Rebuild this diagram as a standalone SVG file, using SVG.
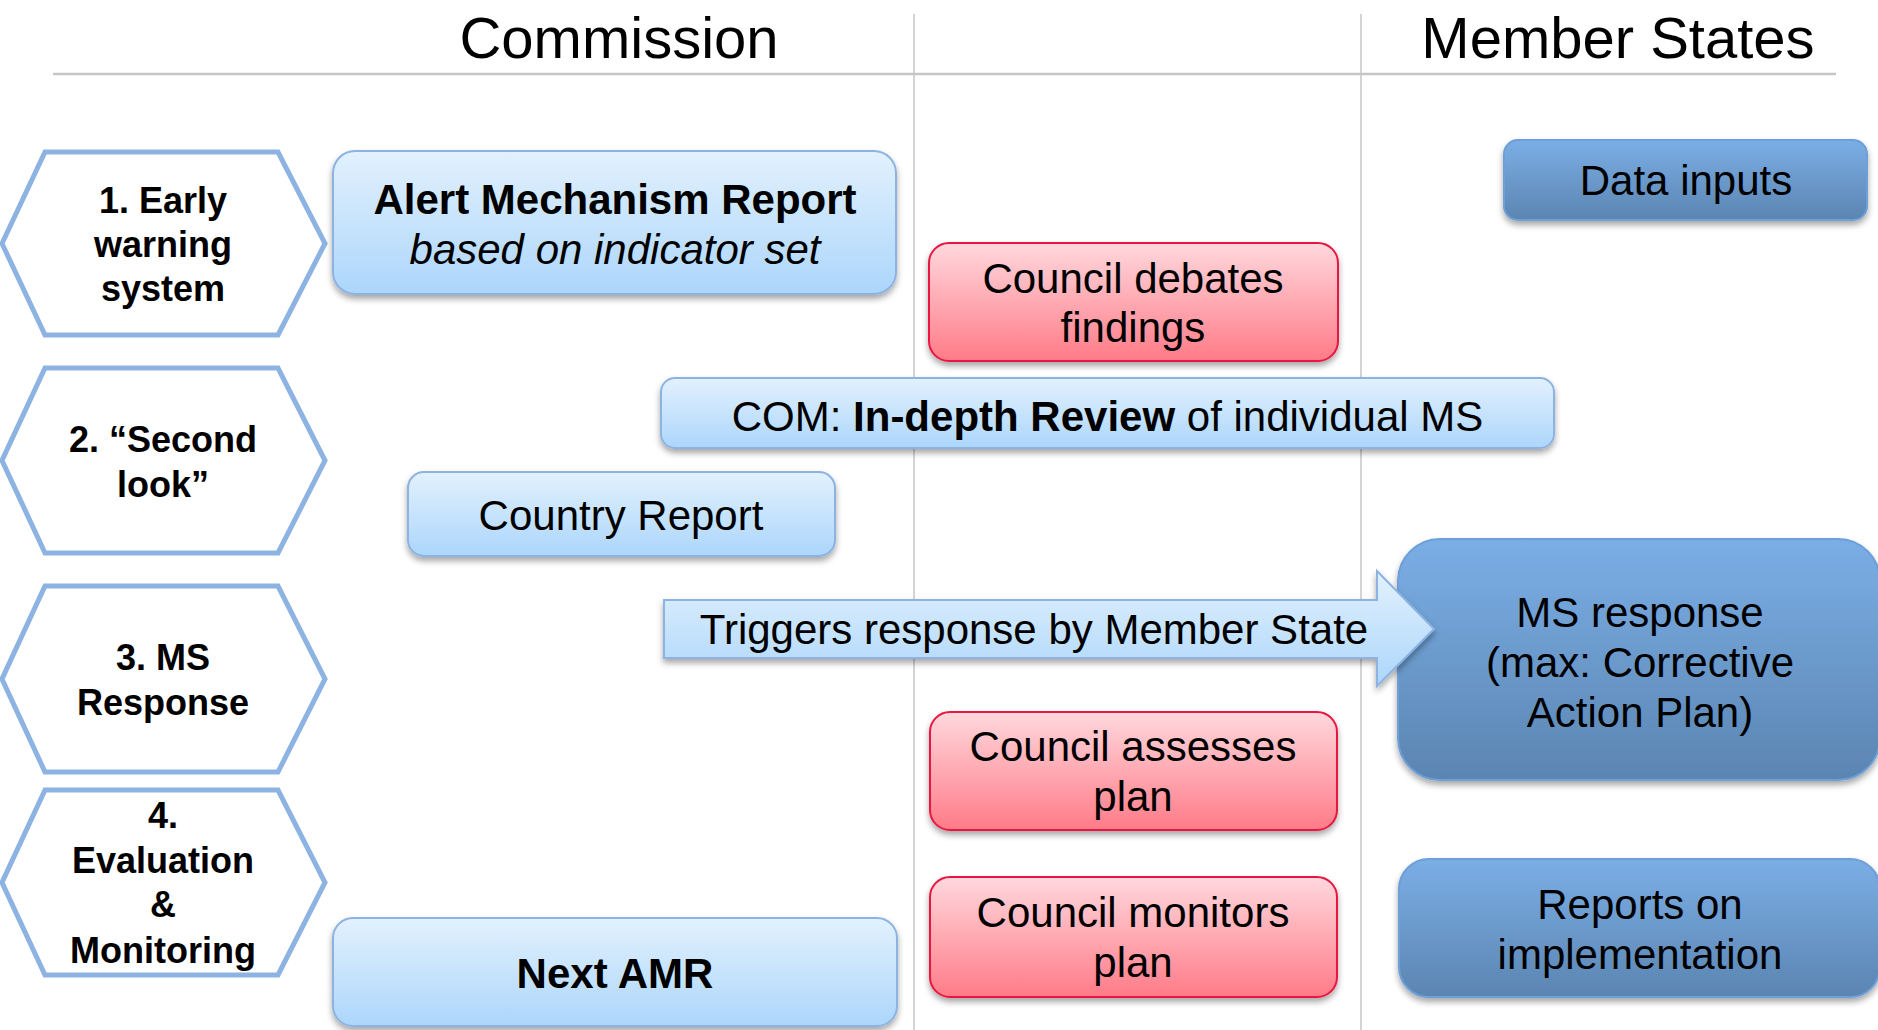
<svg xmlns="http://www.w3.org/2000/svg" width="1878" height="1030" viewBox="0 0 1878 1030">
<defs>
<linearGradient id="gLight" x1="0" y1="0" x2="0" y2="1"><stop offset="0" stop-color="#e2f1fd"/><stop offset="1" stop-color="#acd6fb"/></linearGradient>
<linearGradient id="gRed" x1="0" y1="0" x2="0" y2="1"><stop offset="0" stop-color="#ffd8dd"/><stop offset="1" stop-color="#ff7b88"/></linearGradient>
<linearGradient id="gDark" x1="0" y1="0" x2="0" y2="1"><stop offset="0" stop-color="#7baee6"/><stop offset="1" stop-color="#5b85b1"/></linearGradient>
<filter id="sh" x="-10%" y="-20%" width="120%" height="150%"><feDropShadow dx="0" dy="4" stdDeviation="3" flood-color="#000" flood-opacity="0.35"/></filter>
<style>
text{font-family:"Liberation Sans",Arial,sans-serif;fill:#000;text-anchor:middle}
.hdr{font-size:58px}
.hx{fill:#fff;stroke:#8db3e2;stroke-width:5}
.ht{font-size:36px;font-weight:bold}
.lb{fill:url(#gLight);stroke:#8db3e2;stroke-width:2;filter:url(#sh)}
.rd{fill:url(#gRed);stroke:#e8173f;stroke-width:2;filter:url(#sh)}
.dk{fill:url(#gDark);stroke:#6d9fd8;stroke-width:2;filter:url(#sh)}
.t{font-size:42px}
.b{font-weight:bold}
.i{font-style:italic}
.grid{stroke:#c6c6c6;fill:none}
</style>
</defs>
<g id="header">
<line class="grid" x1="53" y1="74" x2="1836" y2="74" stroke-width="2.5"/>
<line class="grid" x1="914" y1="14" x2="914" y2="1030" stroke-width="1.5"/>
<line class="grid" x1="1361" y1="14" x2="1361" y2="1030" stroke-width="1.5"/>
<text class="hdr" x="619" y="58">Commission</text>
<text class="hdr" x="1618" y="58">Member States</text>
</g>
<g id="hex1"><polygon class="hx" points="45,152 278,152 325,243.5 278,335 45,335 2,243.5"/>
<text class="ht" x="163" y="213">1. Early</text><text class="ht" x="163" y="257">warning</text><text class="ht" x="163" y="301">system</text></g>
<g id="hex2"><polygon class="hx" points="45,368 278,368 325,460.5 278,553 45,553 2,460.5"/>
<text class="ht" x="163" y="452">2. “Second</text><text class="ht" x="163" y="497">look”</text></g>
<g id="hex3"><polygon class="hx" points="45,586 278,586 325,679 278,772 45,772 2,679"/>
<text class="ht" x="163" y="670">3. MS</text><text class="ht" x="163" y="715">Response</text></g>
<g id="hex4"><polygon class="hx" points="45,790 278,790 325,882.5 278,975 45,975 2,882.5"/>
<text class="ht" x="163" y="828">4.</text><text class="ht" x="163" y="873">Evaluation</text><text class="ht" x="163" y="917">&amp;</text><text class="ht" x="163" y="963">Monitoring</text></g>
<g id="amr"><rect class="lb" x="333" y="151" width="563" height="143" rx="22"/>
<text class="t b" x="615" y="214">Alert Mechanism Report</text><text class="t i" x="615" y="264">based on indicator set</text></g>
<g id="council-debates"><rect class="rd" x="929" y="243" width="409" height="118" rx="20"/>
<text class="t" x="1133" y="293">Council debates</text><text class="t" x="1133" y="342">findings</text></g>
<g id="data-inputs"><rect class="dk" x="1504" y="140" width="363" height="80" rx="14"/>
<text class="t" x="1686" y="195">Data inputs</text></g>
<g id="idr"><rect class="lb" x="661" y="378" width="893" height="70" rx="14"/>
<text class="t" x="1107.5" y="431">COM: <tspan class="b">In-depth Review</tspan> of individual MS</text></g>
<g id="country-report"><rect class="lb" x="408" y="472" width="427" height="84" rx="16"/>
<text class="t" x="621" y="530">Country Report</text></g>
<g id="ms-response"><rect class="dk" x="1398" y="539" width="482" height="241" rx="42"/>
<text class="t" x="1640" y="627">MS response</text><text class="t" x="1640" y="677">(max: Corrective</text><text class="t" x="1640" y="727">Action Plan)</text></g>
<g id="connectors"><polygon class="lb" points="664,600 1377,600 1377,571 1434,629 1377,686 1377,658 664,658"/>
<text class="t" x="1034" y="644">Triggers response by Member State</text></g>
<g id="council-assesses"><rect class="rd" x="930" y="712" width="407" height="118" rx="20"/>
<text class="t" x="1133" y="761">Council assesses</text><text class="t" x="1133" y="811">plan</text></g>
<g id="council-monitors"><rect class="rd" x="930" y="877" width="407" height="120" rx="20"/>
<text class="t" x="1133" y="927">Council monitors</text><text class="t" x="1133" y="977">plan</text></g>
<g id="reports"><rect class="dk" x="1399" y="859" width="481" height="138" rx="30"/>
<text class="t" x="1640" y="919">Reports on</text><text class="t" x="1640" y="969">implementation</text></g>
<g id="next-amr"><rect class="lb" x="333" y="918" width="564" height="108" rx="20"/>
<text class="t b" x="615" y="988">Next AMR</text></g>
</svg>
